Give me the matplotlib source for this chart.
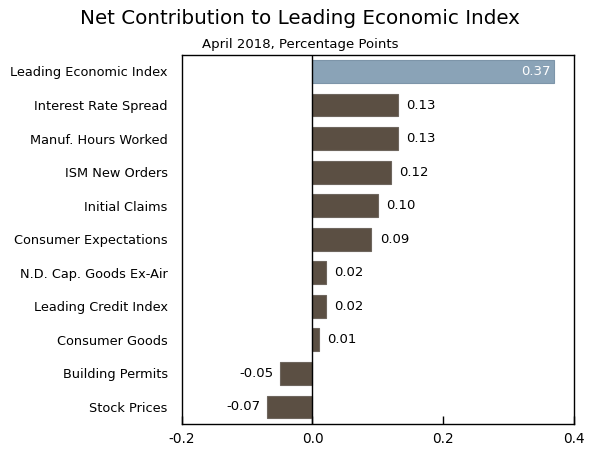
import matplotlib
matplotlib.use("Agg")
import matplotlib.pyplot as plt
import numpy as np

labels = ["Leading Economic Index", "Interest Rate Spread", "Manuf. Hours Worked",
          "ISM New Orders", "Initial Claims", "Consumer Expectations",
          "N.D. Cap. Goods Ex-Air", "Leading Credit Index", "Consumer Goods",
          "Building Permits", "Stock Prices"]
values = [0.37, 0.13, 0.13, 0.12, 0.10, 0.09, 0.02, 0.02, 0.01, -0.05, -0.07]
ticks = [-0.2, 0.0, 0.2, 0.4]

brown = "#5b4f43"
blue = "#8aa3b7"

fig = plt.figure(figsize=(6, 4.54), dpi=100)
ax = fig.add_axes([0.3028, 0.0667, 0.654, 0.8128])

y = np.arange(len(labels))
colors = [blue] + [brown] * (len(labels) - 1)
edges = ["#7d95a9"] + ["#6e665e"] * (len(labels) - 1)
ax.barh(y, values, height=0.68, color=colors, edgecolor=edges, linewidth=0.8, zorder=2)
ax.axvline(0, color="black", linewidth=1, zorder=3)

for i, v in enumerate(values):
    s = "%.2f" % v
    if i == 0:
        ax.text(v - 0.006, i, s, ha="right", va="center", color="white", fontsize=9.5)
    elif v >= 0:
        ax.text(v + 0.013, i, s, ha="left", va="center", color="black", fontsize=9.5)
    else:
        ax.text(v - 0.01, i, s, ha="right", va="center", color="black", fontsize=9.5)

ax.set_xlim(-0.2, 0.4)
ax.set_ylim(len(labels) - 0.5, -0.5)
ax.set_xticks(ticks)
ax.set_xticklabels(["%.1f" % t for t in ticks], fontsize=9.8)
ax.tick_params(axis="x", direction="in", length=6, width=1, pad=6)
ax.set_yticks(y)
ax.set_yticklabels(labels, fontsize=9.3)
ax.tick_params(axis="y", length=0, pad=10)
for sp in ax.spines.values():
    sp.set_linewidth(1)

fig.text(0.5, 0.96, "Net Contribution to Leading Economic Index", ha="center", va="center", fontsize=14.3)
fig.text(0.5, 0.903, "April 2018, Percentage Points", ha="center", va="center", fontsize=9.5)

fig.savefig("out.png", dpi=100)
